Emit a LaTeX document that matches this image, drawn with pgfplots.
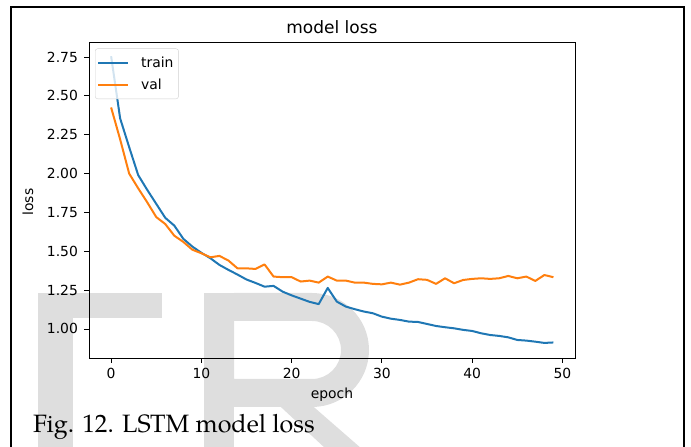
\documentclass[border=0pt]{standalone}
\usepackage{fontspec}
\usepackage{pgfplots}
\usepackage{pgfplotstable}
\pgfplotsset{compat=1.18}
\newfontfamily\dejavu{DejaVu Sans}
\newfontfamily\capfont{TeX Gyre Pagella}
\definecolor{mplblue}{HTML}{1F77B4}
\definecolor{mplorange}{HTML}{FF7F0E}
\definecolor{wm}{HTML}{DEDEDE}
\newcommand{\tickfont}{\dejavu\fontsize{13.9bp}{16bp}\selectfont}
\pgfplotstableread{
epoch train val
0 2.755 2.425
1 2.355 2.220
2 2.170 2.000
3 1.990 1.905
4 1.895 1.815
5 1.805 1.720
6 1.715 1.675
7 1.665 1.600
8 1.580 1.560
9 1.530 1.510
10 1.490 1.487
11 1.455 1.461
12 1.412 1.470
13 1.380 1.440
14 1.350 1.390
15 1.318 1.390
16 1.296 1.386
17 1.272 1.415
18 1.277 1.337
19 1.240 1.333
20 1.216 1.333
21 1.195 1.305
22 1.174 1.311
23 1.160 1.298
24 1.264 1.337
25 1.176 1.311
26 1.144 1.311
27 1.127 1.298
28 1.112 1.298
29 1.101 1.290
30 1.079 1.287
31 1.066 1.298
32 1.058 1.285
33 1.047 1.298
34 1.045 1.320
35 1.032 1.316
36 1.019 1.290
37 1.011 1.326
38 1.004 1.294
39 0.994 1.315
40 0.987 1.322
41 0.972 1.326
42 0.961 1.322
43 0.955 1.326
44 0.946 1.341
45 0.929 1.326
46 0.925 1.337
47 0.918 1.309
48 0.910 1.347
49 0.913 1.333
}\losstable
\begin{document}
\begin{tikzpicture}
\useasboundingbox (0,0) rectangle (691bp,447bp);
\begin{scope}[x=1bp,y=1bp]
% watermark letters
\fill[wm] (38,-2) rectangle (73,154);
\fill[wm] (38,129) rectangle (162,154);
\fill[wm] (204,-2) rectangle (234,154);
\fill[wm, even odd rule] (234,154) -- (312,154) arc[start angle=90, end angle=-90, radius=57] -- (234,40) -- cycle
  (234,126) -- (312,126) arc[start angle=90, end angle=-90, radius=29] -- (234,68) -- cycle;
\fill[wm] (268,52) -- (300,52) -- (362,-2) -- (326,-2) -- cycle;
% frame
\draw[line width=2bp] (11,-3) -- (11,440.3) -- (684,440.3) -- (684,-3);
\end{scope}
\begin{axis}[
  at={(89bp,89bp)}, anchor=south west,
  scale only axis, width=486.5bp, height=316bp,
  xmin=-2.45, xmax=51.45, ymin=0.813, ymax=2.8465,
  xtick={0,10,20,30,40,50},
  ytick={1,1.25,1.5,1.75,2,2.25,2.5,2.75},
  yticklabel style={/pgf/number format/fixed, /pgf/number format/fixed zerofill, /pgf/number format/precision=2, inner xsep=6bp, inner ysep=0pt},
  xticklabel style={inner ysep=4.9bp, inner xsep=0pt},
  /pgf/number format/assume math mode=true,
  tick label style={font=\tickfont},
  tick align=outside, tick pos=left,
  major tick length=4.9bp,
  tick style={black, line width=0.8bp},
  axis line style={black, line width=0.8bp},
  legend cell align=left,
  legend style={at={(rel axis cs:0,1)}, anchor=north west, xshift=6bp, yshift=-6.5bp,
    draw=black!18, rounded corners=2.5bp, fill=white, fill opacity=0.8, text opacity=1,
    font=\tickfont, inner xsep=2bp, inner ysep=3bp,
    nodes={inner xsep=3bp, inner ysep=5bp}, column sep=5bp},
  legend image code/.code={\draw[#1, line width=2bp] (0bp,0bp) -- (30bp,0bp); \path (34bp,0bp);},
]
\addplot[mplblue, line width=2bp, line join=round] table[x=epoch, y=train]{\losstable};
\addlegendentry{train}
\addplot[mplorange, line width=2bp, line join=round] table[x=epoch, y=val]{\losstable};
\addlegendentry{val}
\end{axis}
\begin{scope}[x=1bp,y=1bp]
\node[font=\dejavu\fontsize{17bp}{20bp}\selectfont, anchor=base, inner sep=0pt] at (332,413) {model loss};
\node[font=\tickfont, anchor=base, inner sep=0pt] at (332,48.4) {epoch};
\node[font=\tickfont, rotate=90, anchor=base, inner sep=0pt] at (33,245) {loss};
\node[font=\capfont\fontsize{25.1bp}{30bp}\selectfont, anchor=base west, inner sep=0pt] at (33,15) {Fig. 12. LSTM model loss};
\end{scope}
\end{tikzpicture}
\end{document}
